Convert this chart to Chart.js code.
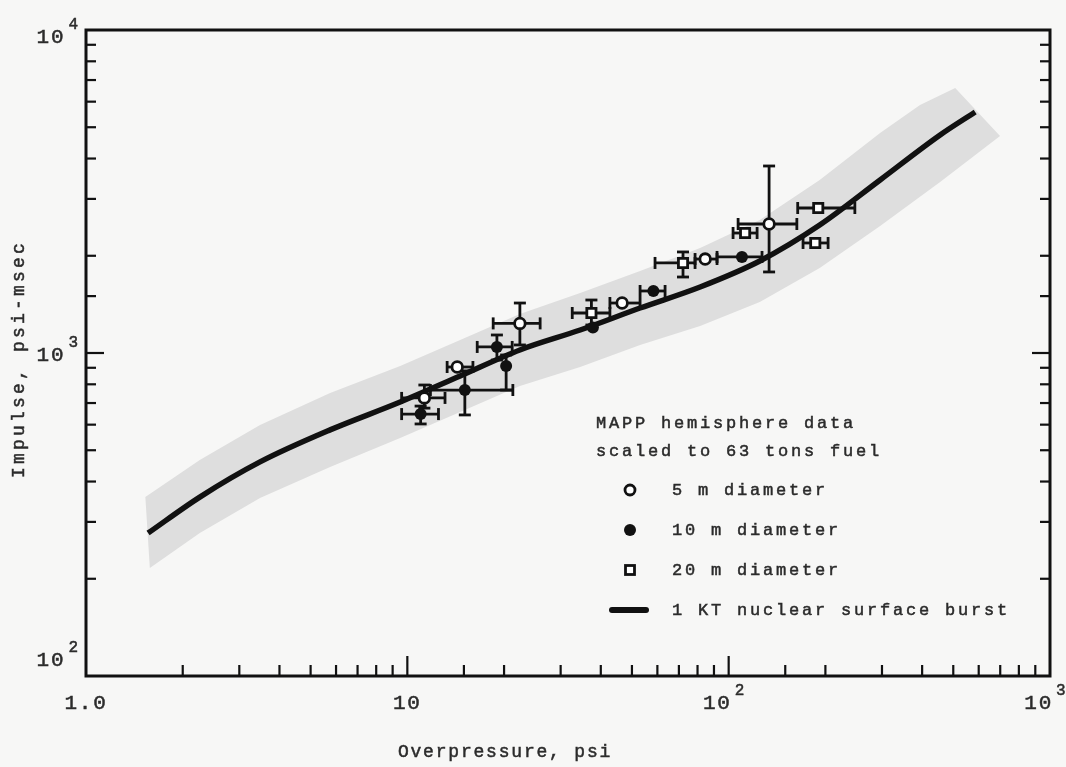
<!DOCTYPE html>
<html>
<head>
<meta charset="utf-8">
<script src="https://cdn.jsdelivr.net/npm/chart.js@4.4.1/dist/chart.umd.min.js"></script>
<style>
  html, body { margin: 0; padding: 0; background: #f7f7f6; }
  #wrap { width: 1066px; height: 767px; position: relative; }
</style>
</head>
<body>
<div id="wrap"><canvas id="chart"></canvas></div>
<script>
// 1 KT nuclear surface burst (overpressure psi, impulse psi-msec)
const curveP = [1.56, 2.26, 3.48, 5.75, 9.5, 14.6, 22.4, 34.5, 53, 81.5, 125, 192, 296, 455, 585];
const curveI = [277, 358, 460, 578, 705, 849, 1022, 1178, 1378, 1601, 1927, 2490, 3433, 4731, 5573];

// grey scatter band round the curve
const bandUpperP = [1.53, 2.26, 3.48, 5.75, 9.5, 14.6, 22.4, 34.5, 53, 81.5, 125, 192, 296, 394, 507];
const bandUpperI = [358, 466, 599, 752, 912, 1097, 1320, 1534, 1794, 2115, 2581, 3433, 4800, 5859, 6614];
const bandLowerP = [1.58, 2.26, 3.48, 5.75, 9.5, 14.6, 22.4, 34.5, 53, 81.5, 125, 192, 296, 455, 699];
const bandLowerI = [216, 277, 356, 444, 546, 657, 790, 905, 1059, 1212, 1439, 1833, 2473, 3384, 4697];

// MAPP hemisphere data, 5 m diameter
const d5P = [11.3, 14.3, 22.4, 46.6, 84.5, 133.6];
const d5I = [726, 905, 1235, 1428, 1954, 2508];
const d5PLo = [9.6, 13.3, 18.5, 42.7, 78.6, 107];
const d5PHi = [13.1, 16.0, 25.9, 53.0, 92.0, 163];
const d5ILo = [675, 905, 1059, 1428, 1954, 1782];
const d5IHi = [796, 905, 1428, 1428, 1954, 3793];

// 10 m diameter
const d10P = [11.0, 15.1, 19.0, 20.3, 37.8, 58.3, 110];
const d10I = [647, 768, 1044, 912, 1200, 1556, 1983];
const d10PLo = [9.6, 11.8, 16.5, 20.3, 37.8, 53.0, 92.0];
const d10PHi = [12.5, 21.3, 21.2, 20.3, 37.8, 63.4, 127];
const d10ILo = [603, 643, 951, 768, 1200, 1556, 1983];
const d10IHi = [685, 880, 1137, 986, 1200, 1556, 1983];

// 20 m diameter
const d20P = [37.4, 72.1, 112.5, 190, 186];
const d20I = [1330, 1900, 2352, 2811, 2191];
const d20PLo = [32.6, 59.0, 103.2, 164, 170.4];
const d20PHi = [42.7, 78.6, 122.6, 247, 203.9];
const d20ILo = [1221, 1719, 2352, 2811, 2191];
const d20IHi = [1459, 2055, 2352, 2811, 2191];

// tick labels
const xTickValues = [1, 10, 100, 1000];
const xTickBases = ['1.0', '10', '10', '10'];
const xTickExps = ['', '', '2', '3'];
const yTickValues = [100, 1000, 10000];
const yTickBases = ['10', '10', '10'];
const yTickExps = ['2', '3', '4'];

const legendTitle = ['MAPP hemisphere data', 'scaled to 63 tons fuel'];
const legendLabels = ['5 m diameter', '10 m diameter', '20 m diameter', '1 KT nuclear surface burst'];
const xTitle = 'Overpressure, psi';
const yTitle = 'Impulse, psi-msec';

const INK = '#111111';
const TEXT = '#2b2b2b';
const BAND = '#dedede';
const FONT = '"Liberation Mono", "DejaVu Sans Mono", monospace';

function pts(ps, is) {
  return ps.map((p, k) => ({ x: p, y: is[k] }));
}

const bandData = pts(bandUpperP, bandUpperI).concat(pts(bandLowerP, bandLowerI).reverse());

const errorSeries = [
  { p: d5P, i: d5I, pLo: d5PLo, pHi: d5PHi, iLo: d5ILo, iHi: d5IHi },
  { p: d10P, i: d10I, pLo: d10PLo, pHi: d10PHi, iLo: d10ILo, iHi: d10IHi },
  { p: d20P, i: d20I, pLo: d20PLo, pHi: d20PHi, iLo: d20ILo, iHi: d20IHi }
];

function line(ctx, x0, y0, x1, y1) {
  ctx.beginPath();
  ctx.moveTo(x0, y0);
  ctx.lineTo(x1, y1);
  ctx.stroke();
}

function setFont(ctx, size, spacing) {
  ctx.font = size + 'px ' + FONT;
  ctx.letterSpacing = (spacing || 0) + 'px';
}

// typewriter look: fill plus a thin stroke
function typeText(ctx, s, x, y) {
  ctx.fillText(s, x, y);
  ctx.strokeText(s, x, y);
}

// "10" with a raised exponent; x is the centre (or right edge) of the whole label
function drawPow(ctx, base, exp, x, y, align) {
  setFont(ctx, 21, 1.8);
  const wb = ctx.measureText(base).width;
  setFont(ctx, 16, 0);
  const we = exp ? ctx.measureText(exp).width + 3 : 0;
  const total = wb + we;
  const left = align === 'right' ? x - total : x - total / 2;
  ctx.textAlign = 'left';
  ctx.textBaseline = 'middle';
  setFont(ctx, 21, 1.8);
  typeText(ctx, base, left, y);
  if (exp) {
    setFont(ctx, 16, 0);
    typeText(ctx, exp, left + wb + 3, y - 12);
  }
}

function isMajor(v) {
  const l = Math.log10(v);
  return Math.abs(l - Math.round(l)) < 1e-9;
}

// error bars go on after the curve, under the markers
const errorBars = {
  id: 'errorBars',
  afterDatasetDraw(chart, args) {
    if (args.index !== 1) return;
    const { ctx, scales: { x, y } } = chart;
    ctx.save();
    ctx.strokeStyle = INK;
    ctx.lineWidth = 2.8;
    const cap = 6;
    errorSeries.forEach(s => {
      s.p.forEach((p, k) => {
        const px = x.getPixelForValue(p);
        const py = y.getPixelForValue(s.i[k]);
        const x0 = x.getPixelForValue(s.pLo[k]);
        const x1 = x.getPixelForValue(s.pHi[k]);
        const y0 = y.getPixelForValue(s.iLo[k]);
        const y1 = y.getPixelForValue(s.iHi[k]);
        if (x1 - x0 > 1) {
          line(ctx, x0, py, x1, py);
          line(ctx, x0, py - cap, x0, py + cap);
          line(ctx, x1, py - cap, x1, py + cap);
        }
        if (y0 - y1 > 1) {
          line(ctx, px, y0, px, y1);
          line(ctx, px - cap, y0, px + cap, y0);
          line(ctx, px - cap, y1, px + cap, y1);
        }
      });
    });
    ctx.restore();
  }
};

const paper = {
  id: 'paper',
  beforeDraw(chart) {
    const ctx = chart.ctx;
    ctx.save();
    ctx.fillStyle = '#f7f7f6';
    ctx.fillRect(0, 0, chart.width, chart.height);
    ctx.restore();
  }
};

const frameAndText = {
  id: 'frameAndText',
  afterDraw(chart) {
    const { ctx, chartArea: a, scales: { x, y } } = chart;
    ctx.save();
    ctx.strokeStyle = INK;
    ctx.lineWidth = 3;
    ctx.strokeRect(a.left, a.top, a.right - a.left, a.bottom - a.top);

    // inward ticks
    ctx.lineWidth = 2.2;
    x.ticks.forEach(t => {
      const px = x.getPixelForValue(t.value);
      if (px <= a.left + 2 || px >= a.right - 2) return;
      const len = isMajor(t.value) ? 20 : 11;
      line(ctx, px, a.bottom, px, a.bottom - len);
    });
    y.ticks.forEach(t => {
      const py = y.getPixelForValue(t.value);
      if (py <= a.top + 2 || py >= a.bottom - 2) return;
      const len = isMajor(t.value) ? 18 : 10;
      line(ctx, a.left, py, a.left + len, py);
      line(ctx, a.right, py, a.right - len, py);
    });

    // tick labels
    ctx.fillStyle = TEXT;
    ctx.strokeStyle = TEXT;
    ctx.lineWidth = 0.5;
    xTickValues.forEach((v, k) => {
      const px = x.getPixelForValue(v);
      const shift = xTickExps[k] ? -5 : 0;
      drawPow(ctx, xTickBases[k], xTickExps[k], px + shift, a.bottom + 27, 'center');
    });
    const yShift = [-16, 2, 7];
    yTickValues.forEach((v, k) => {
      const py = y.getPixelForValue(v);
      drawPow(ctx, yTickBases[k], yTickExps[k], a.left - 8, py + yShift[k], 'right');
    });

    // axis titles
    ctx.textAlign = 'center';
    ctx.textBaseline = 'middle';
    setFont(ctx, 18, 1.8);
    typeText(ctx, xTitle, 505, 752);
    ctx.save();
    ctx.translate(19, (a.top + a.bottom) / 2 + 6);
    ctx.rotate(-Math.PI / 2);
    setFont(ctx, 18, 3.2);
    typeText(ctx, yTitle, 0, 0);
    ctx.restore();

    // legend
    setFont(ctx, 17, 2.8);
    ctx.textAlign = 'left';
    typeText(ctx, legendTitle[0], 596, 423);
    typeText(ctx, legendTitle[1], 596, 451);
    const rowY = [490, 530, 570, 610];
    const mx = 630;
    ctx.strokeStyle = INK;
    ctx.lineWidth = 2.8;
    // open circle
    ctx.beginPath();
    ctx.arc(mx, rowY[0], 5, 0, Math.PI * 2);
    ctx.fillStyle = '#ffffff';
    ctx.fill();
    ctx.stroke();
    // filled circle
    ctx.beginPath();
    ctx.arc(mx, rowY[1], 6, 0, Math.PI * 2);
    ctx.fillStyle = INK;
    ctx.fill();
    // open square
    ctx.fillStyle = '#ffffff';
    ctx.fillRect(mx - 5, rowY[2] - 5, 10, 10);
    ctx.strokeRect(mx - 4.5, rowY[2] - 4.5, 9, 9);
    // curve sample
    ctx.lineWidth = 6;
    ctx.lineCap = 'round';
    line(ctx, 612, rowY[3], 646, rowY[3]);
    ctx.fillStyle = TEXT;
    ctx.strokeStyle = TEXT;
    ctx.lineWidth = 0.5;
    legendLabels.forEach((lab, k) => {
      typeText(ctx, lab, 672, rowY[k]);
    });
    ctx.restore();
  }
};

new Chart(document.getElementById('chart'), {
  type: 'line',
  data: {
    datasets: [
      {
        data: bandData,
        fill: 'shape',
        backgroundColor: BAND,
        borderColor: 'rgba(0,0,0,0)',
        borderWidth: 0,
        pointRadius: 0,
        tension: 0,
        order: 5
      },
      {
        data: pts(curveP, curveI),
        borderColor: INK,
        borderWidth: 5.5,
        pointRadius: 0,
        fill: false,
        cubicInterpolationMode: 'monotone',
        order: 4
      },
      {
        data: pts(d5P, d5I),
        showLine: false,
        pointStyle: 'circle',
        pointRadius: 5.3,
        pointBorderWidth: 2.8,
        pointBorderColor: INK,
        pointBackgroundColor: '#ffffff',
        order: 1
      },
      {
        data: pts(d10P, d10I),
        showLine: false,
        pointStyle: 'circle',
        pointRadius: 6,
        pointBorderWidth: 0,
        pointBorderColor: INK,
        pointBackgroundColor: INK,
        order: 1
      },
      {
        data: pts(d20P, d20I),
        showLine: false,
        pointStyle: 'rect',
        pointRadius: 6.5,
        pointBorderWidth: 2.8,
        pointBorderColor: INK,
        pointBackgroundColor: '#ffffff',
        order: 1
      }
    ]
  },
  options: {
    responsive: true,
    maintainAspectRatio: false,
    animation: false,
    events: [],
    layout: { padding: { left: 0, right: 16, top: 30, bottom: 0 } },
    plugins: {
      legend: { display: false },
      tooltip: { enabled: false }
    },
    scales: {
      x: {
        type: 'logarithmic',
        min: 1,
        max: 1000,
        grid: { display: false },
        border: { display: false },
        ticks: { display: false },
        afterFit: (scale) => { scale.height = 91; }
      },
      y: {
        type: 'logarithmic',
        min: 100,
        max: 10000,
        grid: { display: false },
        border: { display: false },
        ticks: { display: false },
        afterFit: (scale) => { scale.width = 86; }
      }
    }
  },
  plugins: [paper, errorBars, frameAndText]
});
</script>
</body>
</html>
